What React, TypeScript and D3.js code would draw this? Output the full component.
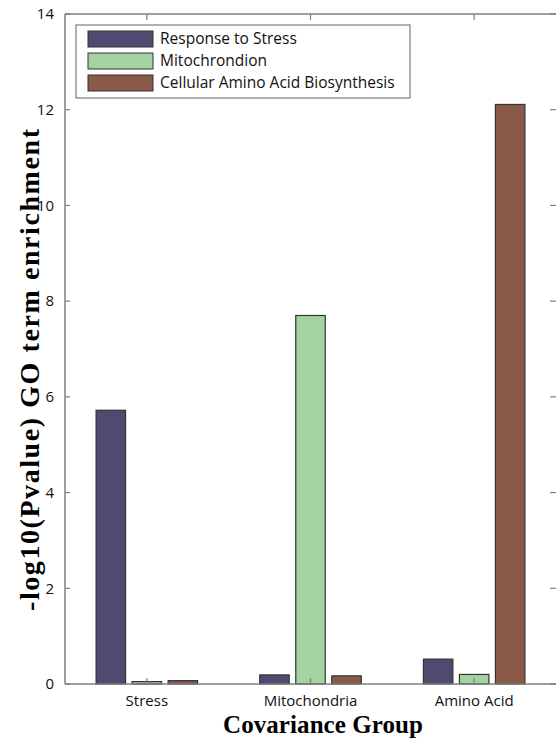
import React from 'react'
import * as d3 from 'd3'

const groups = ['Stress', 'Mitochondria', 'Amino Acid']
const seriesNames = ['Response to Stress', 'Mitochrondion', 'Cellular Amino Acid Biosynthesis']
const colors = ['#4f4a6f', '#a3d3a0', '#8b5947']
// values per series, one per group
const stressValues = [5.72, 0.19, 0.52]
const mitoValues = [0.05, 7.7, 0.2]
const aminoValues = [0.07, 0.17, 12.11]
const yTicks = [0, 2, 4, 6, 8, 10, 12, 14]

const W = 556
const H = 744
const margin = { left: 65, top: 14, right: 0, bottom: 60 }

export default function App() {
  const series = [stressValues, mitoValues, aminoValues]
  // group centres sit at 1,2,3 on a 0.5..3.5 axis, like matlab bar()
  const x = d3.scaleLinear().domain([0.5, 3.5]).range([margin.left, W - margin.right])
  const y = d3.scaleLinear().domain([0, 14]).range([H - margin.bottom, margin.top])
  const unit = x(2) - x(1)
  const barW = unit * 0.18
  const step = unit * 0.22
  const axisColor = '#7f7f7f'
  const sans = '"Open Sans", "DejaVu Sans", sans-serif'
  const serif = '"Liberation Serif", "DejaVu Serif", serif'

  return (
    <svg width={W} height={H} style={{ position: 'absolute', left: 0, top: 0 }}>
      <rect x={0} y={0} width={W} height={H} fill="#fff" />
      {/* bars */}
      {series.map((vals, si) =>
        vals.map((v, gi) => {
          const cx = x(gi + 1) + (si - 1) * step
          return (
            <rect key={si + '-' + gi}
              x={cx - barW / 2} y={y(v)}
              width={barW} height={y(0) - y(v)}
              fill={colors[si]} stroke="#333" strokeWidth={1.2} />
          )
        })
      )}
      {/* frame */}
      <line x1={x(0.5)} x2={W} y1={y(14)} y2={y(14)} stroke={axisColor} strokeWidth={1.5} />
      <line x1={x(0.5)} x2={W} y1={y(0)} y2={y(0)} stroke={axisColor} strokeWidth={1.5} />
      <line x1={x(0.5)} x2={x(0.5)} y1={y(0)} y2={y(14)} stroke={axisColor} strokeWidth={1.5} />
      {yTicks.map(t => (
        <g key={t}>
          <line x1={x(0.5)} x2={x(0.5) + 5} y1={y(t)} y2={y(t)} stroke={axisColor} strokeWidth={1.2} />
          <line x1={W - 6} x2={W} y1={y(t)} y2={y(t)} stroke={axisColor} strokeWidth={1.2} />
          <text x={x(0.5) - 11} y={y(t)} dy="0.35em" textAnchor="end"
            fontFamily={sans} fontSize={15} fill="#111">{t}</text>
        </g>
      ))}
      {groups.map((g, i) => (
        <g key={g}>
          <line x1={x(i + 1)} x2={x(i + 1)} y1={y(0)} y2={y(0) - 6} stroke={axisColor} strokeWidth={1.2} />
          <line x1={x(i + 1)} x2={x(i + 1)} y1={y(14)} y2={y(14) + 6} stroke={axisColor} strokeWidth={1.2} />
          <text x={x(i + 1)} y={y(0) + 22} textAnchor="middle"
            fontFamily={sans} fontSize={15} fill="#111">{g}</text>
        </g>
      ))}
      {/* axis titles */}
      <text x={323} y={733} textAnchor="middle" fontFamily={serif}
        fontWeight="bold" fontSize={25} textLength={200} lengthAdjust="spacing"
        fill="#000">Covariance Group</text>
      <text transform={`translate(39,370) rotate(-90)`} textAnchor="middle"
        fontFamily={serif} fontWeight="bold" fontSize={28} textLength={482} lengthAdjust="spacing"
        fill="#000">-log10(Pvalue) GO term enrichment</text>
      {/* legend */}
      <rect x={76} y={25} width={334} height={73} fill="#fff" stroke={axisColor} strokeWidth={1.2} />
      {seriesNames.map((n, i) => (
        <g key={n}>
          <rect x={88} y={31 + i * 22} width={65} height={16} fill={colors[i]} stroke="#333" strokeWidth={1} />
          <text x={160} y={39 + i * 22} dy="0.35em" fontFamily={sans} fontSize={15.5} fill="#111">{n}</text>
        </g>
      ))}
    </svg>
  )
}
